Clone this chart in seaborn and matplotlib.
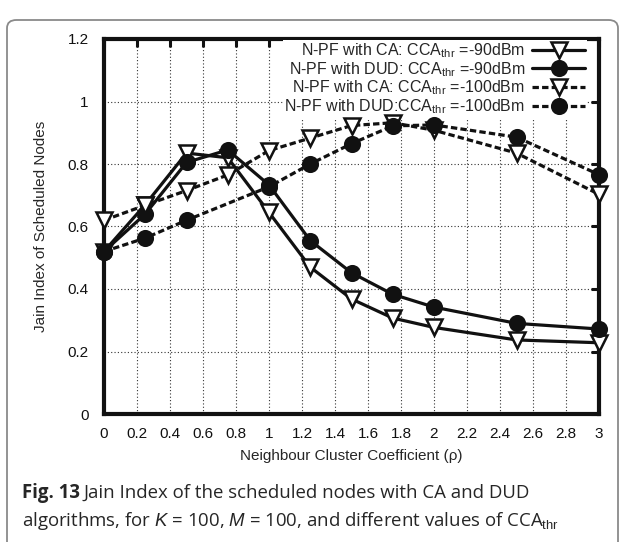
import matplotlib
matplotlib.use("Agg")
import matplotlib.pyplot as plt
import seaborn as sns
import pandas as pd
from matplotlib.patches import FancyBboxPatch

# Data
rho = [0, 0.25, 0.5, 0.75, 1, 1.25, 1.5, 1.75, 2, 2.5, 3]
rho_dud100 = [0, 0.25, 0.5, 1, 1.25, 1.5, 1.75, 2, 2.5, 3]

ca_90 = [0.52, 0.67, 0.835, 0.82, 0.645, 0.47, 0.368, 0.307, 0.277, 0.237, 0.228]
dud_90 = [0.52, 0.64, 0.805, 0.845, 0.733, 0.555, 0.452, 0.383, 0.342, 0.29, 0.272]
ca_100 = [0.62, 0.668, 0.715, 0.765, 0.843, 0.883, 0.923, 0.932, 0.908, 0.835, 0.703]
dud_100 = [0.52, 0.563, 0.62, 0.727, 0.80, 0.865, 0.922, 0.925, 0.886, 0.766]

labels = [
    r"N-PF with CA: CCA$_\mathrm{thr}$ =-90dBm",
    r"N-PF with DUD: CCA$_\mathrm{thr}$ =-90dBm",
    r"N-PF with CA: CCA$_\mathrm{thr}$ =-100dBm",
    r"N-PF with DUD:CCA$_\mathrm{thr}$ =-100dBm",
]

sns.set_style("white")
plt.rcParams["font.family"] = ["Liberation Sans", "DejaVu Sans"]
plt.rcParams["mathtext.fontset"] = "custom"
plt.rcParams["mathtext.rm"] = "Liberation Sans"
plt.rcParams["mathtext.it"] = "Liberation Sans:italic"

fig = plt.figure(figsize=(6.25, 5.42), dpi=100)
ax = fig.add_axes([104 / 625, 1 - 414 / 542, 495 / 625, 375 / 542])

# rounded frame around the whole panel
frame = FancyBboxPatch((7 / 625, -0.1), 611 / 625, 1.1 - 20 / 542,
                       boxstyle="round,pad=0,rounding_size=0.015",
                       transform=fig.transFigure, fill=False,
                       edgecolor="#8a8a8a", linewidth=1.3, clip_on=False)
fig.patches.append(frame)

series = [
    (rho, ca_90, "v", "-", "white", 12),
    (rho, dud_90, "o", "-", "#111111", 10.5),
    (rho, ca_100, "v", (0, (2, 1)), "white", 12),
    (rho_dud100, dud_100, "o", (0, (2, 1)), "#111111", 10.5),
]
for (xs, ys, mk, ls, fc, ms), lab in zip(series, labels):
    df = pd.DataFrame({"rho": xs, "jain": ys})
    sns.lineplot(data=df, x="rho", y="jain", ax=ax, color="#111111",
                 linewidth=2.3, linestyle=ls, marker=mk, markersize=ms,
                 markerfacecolor=fc, markeredgecolor="#111111",
                 markeredgewidth=1.8, label=lab, zorder=3, clip_on=False)

ax.set_xlim(0, 3)
ax.set_ylim(0, 1.2)
ax.set_xticks([i * 0.2 for i in range(16)])
ax.set_yticks([i * 0.2 for i in range(7)])
ax.set_xticklabels([f"{i * 0.2:g}" for i in range(16)])
ax.set_yticklabels([f"{i * 0.2:g}" for i in range(7)])
ax.grid(True, linestyle=(0, (1, 2)), color="#333333", linewidth=0.8)
ax.set_axisbelow(True)
ax.tick_params(direction="in", length=6, width=2.2, top=True, right=True,
               labelsize=11, colors="#111111")
ax.tick_params(axis="x", pad=9)
ax.tick_params(axis="y", pad=11)
for sp in ax.spines.values():
    sp.set_linewidth(3)
    sp.set_color("#111111")

ax.set_xlabel("Neighbour Cluster Coefficient (ρ)", fontsize=11, labelpad=6)
ax.set_ylabel("Jain Index of Scheduled Nodes", fontsize=11, labelpad=14)

leg = ax.legend(loc="upper right", frameon=True, markerfirst=False,
                fontsize=11.5, handlelength=3.3, handletextpad=0.45,
                labelspacing=0.0, borderaxespad=0.0, borderpad=0.1,
                bbox_to_anchor=(0.975, 0.998))
leg.get_frame().set_facecolor("white")
leg.get_frame().set_edgecolor("none")
leg.get_frame().set_alpha(1)
leg.get_frame().set_boxstyle("square", pad=0)
leg.set_zorder(2.5)

cap_font = ["Open Sans", "DejaVu Sans"]
fig.text(22 / 625, 1 - 493 / 542, "Fig. 13", fontsize=13.4, fontweight="bold",
         family=cap_font, va="center", ha="left")
fig.text(84 / 625, 1 - 493 / 542,
         "Jain Index of the scheduled nodes with CA and DUD",
         fontsize=13.4, family=cap_font, va="center", ha="left")
fig.text(22 / 625, 1 - 521 / 542,
         r"algorithms, for $K$ = 100, $M$ = 100, and different values of CCA$_\mathrm{thr}$",
         fontsize=13.4, family=cap_font, va="center", ha="left")

fig.savefig("out.png", dpi=100)
